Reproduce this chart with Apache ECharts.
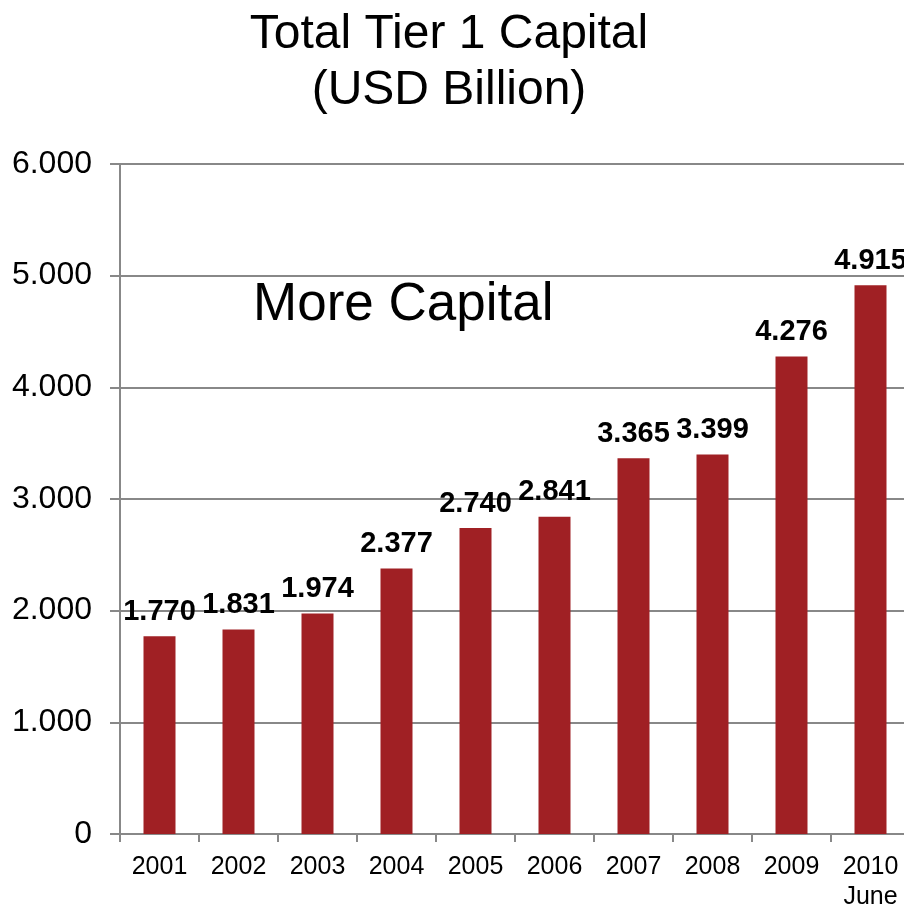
<!DOCTYPE html>
<html><head><meta charset="utf-8">
<script src="https://cdn.jsdelivr.net/npm/echarts@6/dist/echarts.min.js"></script>
<style>html,body{margin:0;padding:0;background:#fff}#c{width:904px;height:906px}</style>
</head><body><div id="c"></div>
<script>
const categories = ['2001','2002','2003','2004','2005','2006','2007','2008','2009','2010\nJune'];
const values = [1770,1831,1974,2377,2740,2841,3365,3399,4276,4915];
const yTicks = [0,1000,2000,3000,4000,5000,6000];
const fmt = v => v === 0 ? '0' : (v/1000).toFixed(3);
const chart = echarts.init(document.getElementById('c'));
chart.setOption({
  animation:false,
  title:{text:'Total Tier 1 Capital\n(USD Billion)',left:444,top:2,
    textAlign:'center',
    textStyle:{fontFamily:'Liberation Sans',fontSize:48,fontWeight:'normal',color:'#000',lineHeight:56}},
  graphic:[{type:'text',left:253,top:279,style:{text:'More Capital',font:'53px Liberation Sans',fill:'#000'}}],
  grid:{left:120,right:-6,top:164,bottom:72,outerBoundsMode:'none',containLabel:false},
  xAxis:{type:'category',data:categories,
    axisLine:{lineStyle:{color:'#888',width:2}},
    axisTick:{show:true,length:8,lineStyle:{color:'#888',width:2}},
    axisLabel:{fontFamily:'Liberation Sans',fontSize:25,color:'#000',margin:18,lineHeight:30}},
  yAxis:{type:'value',min:0,max:6000,interval:1000,
    axisLine:{show:true,lineStyle:{color:'#888',width:2}},
    axisTick:{show:true,length:10,lineStyle:{color:'#888',width:2}},
    splitLine:{lineStyle:{color:'#888',width:2}},
    axisLabel:{fontFamily:'Liberation Sans',fontSize:32,color:'#000',margin:28,
      formatter:v=>yTicks.includes(v)?fmt(v):''}},
  series:[{type:'bar',data:values,barWidth:32,
    itemStyle:{color:'#A02024'},
    label:{show:true,position:'top',distance:10,formatter:p=>fmt(p.value),
      fontFamily:'Liberation Sans',fontSize:29,fontWeight:'bold',color:'#000'}}]
});
</script></body></html>
